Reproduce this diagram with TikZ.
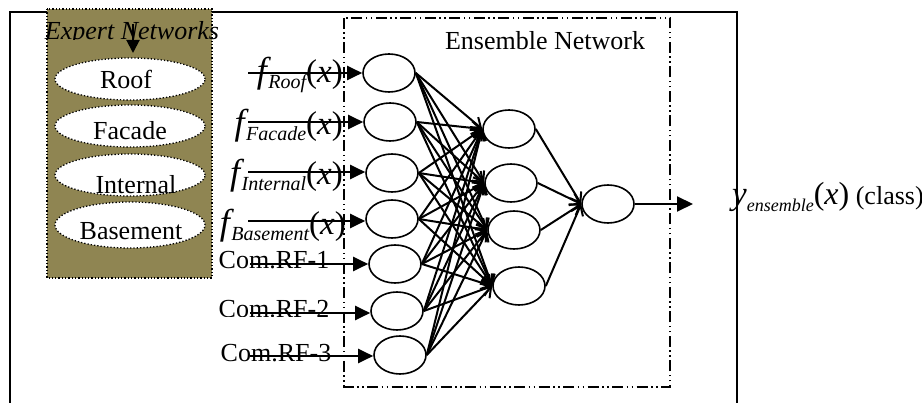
\documentclass[tikz,border=0pt]{standalone}
\usepackage{fontspec}
\setmainfont{Liberation Serif}
\usetikzlibrary{shapes.geometric,arrows.meta}
\definecolor{expertbg}{RGB}{143,133,82}
\newcommand\flab[1]{{\fontsize{36}{36}\selectfont\itshape f\kern1.5pt}\raisebox{-6pt}{\fontsize{20}{20}\selectfont\itshape #1}{\fontsize{33}{33}\selectfont(\textit{x})}}
\begin{document}
\begin{tikzpicture}[x=1pt,y=-1pt,font=\fontsize{26}{30}\selectfont,
  neuron/.style={ellipse,draw,line width=1.6pt,minimum width=52pt,minimum height=38pt,inner sep=0pt},
  expert/.style={ellipse,draw,dotted,line width=1.3pt,fill=white,minimum width=150pt,minimum height=42pt,inner sep=0pt},
  lab/.style={anchor=base,inner sep=0pt},
  inarr/.style={line width=2pt,-{Triangle[length=15pt,width=14pt]}},
  conn/.style={line width=2pt,-{Straight Barb[length=9pt,width=13pt]}},
  ensbox/.style={line width=1.6pt,dash pattern=on 11pt off 3.5pt on 1.5pt off 3.5pt on 1.5pt off 3.5pt}]
\useasboundingbox (0,0) rectangle (922,403);
% outer frame
\draw[line width=1.8pt] (10,404) -- (10,12) -- (737,12) -- (737,404);
% expert box
\filldraw[fill=expertbg,draw=black,dotted,line width=1.3pt] (47,9) rectangle (212,278);
\begin{scope}
  \clip (0,0) rectangle (922,40);
  \node[lab,font=\fontsize{26}{30}\selectfont\itshape] (extitle) at (132,40) {Expert Networks};
\end{scope}
\coordinate (ea) at (133,24);
\coordinate (eb) at (133,53);
\draw[line width=2pt,-{Triangle[length=13pt,width=13pt]}] (ea) -- (eb);
\node[expert] (roof) at (130,79) {};
\node[expert] (facade) at (130,126) {};
\node[expert] (internal) at (130,175) {};
\node[expert,minimum height=46pt] (basement) at (130,225) {};
\node[lab] (roofl) at (126,89) {Roof};
\node[lab] (facadel) at (130,140) {Facade};
\begin{scope}
  \clip (0,0) rectangle (922,195);
  \node[lab] (internall) at (136,194) {Internal};
\end{scope}
\node[lab] (basementl) at (131,240) {Basement};
% ensemble box
\draw[ensbox] (344,18) rectangle (670,387);
\node[lab] (enstitle) at (545,50) {Ensemble Network};
% neurons
\node[neuron] (i1) at (389,73) {};
\node[neuron] (i2) at (390,122) {};
\node[neuron] (i3) at (392,173) {};
\node[neuron] (i4) at (392,219) {};
\node[neuron] (i5) at (395,264) {};
\node[neuron] (i6) at (397,311) {};
\node[neuron] (i7) at (400,355) {};
\node[neuron] (h1) at (509,129) {};
\node[neuron] (h2) at (511,183) {};
\node[neuron] (h3) at (514,230) {};
\node[neuron] (h4) at (519,286) {};
\node[neuron] (o) at (608,204) {};
% input labels
\node[anchor=base east,inner sep=0pt] (l1) at (343,83) {\flab{Roof}};
\node[anchor=base east,inner sep=0pt] (l2) at (343,135) {\flab{Facade}};
\node[anchor=base east,inner sep=0pt] (l3) at (343,185) {\flab{Internal}};
\node[anchor=base east,inner sep=0pt] (l4) at (346,235) {\flab{Basement}};
\node[lab] (l5) at (274,269) {Com.RF-1};
\begin{scope}
  \clip (0,0) rectangle (922,317);
  \node[lab] (l6) at (274,318) {Com.RF-2};
\end{scope}
\node[lab] (l7) at (276,362) {Com.RF-3};
% input arrows
\coordinate (s1) at (248,73);
\coordinate (s2) at (248,122);
\coordinate (s3) at (248,172);
\coordinate (s4) at (248,221);
\coordinate (s5) at (250,264);
\coordinate (s6) at (250,313);
\coordinate (s7) at (250,356);
\foreach \k in {1,...,7} \draw[inarr] (s\k) -- (s\k -| i\k.west);
% connections
\foreach \i in {1,...,7}
  \foreach \j in {1,...,4}
    \draw[conn] (i\i.east) -- (h\j.west);
\foreach \j in {1,...,4}
  \draw[conn] (h\j.east) -- (o.west);
% output
\coordinate (oe) at (693,204);
\draw[inarr,-{Triangle[length=16pt,width=15pt]}] (o.east) -- (oe);
\node[anchor=base west,inner sep=0pt] (yl) at (732,205) {{\fontsize{33}{33}\selectfont\itshape y}\raisebox{-7pt}{\fontsize{18}{18}\selectfont\itshape ensemble}{\fontsize{32}{32}\selectfont(\textit{x})} (class)};
\end{tikzpicture}
\end{document}
